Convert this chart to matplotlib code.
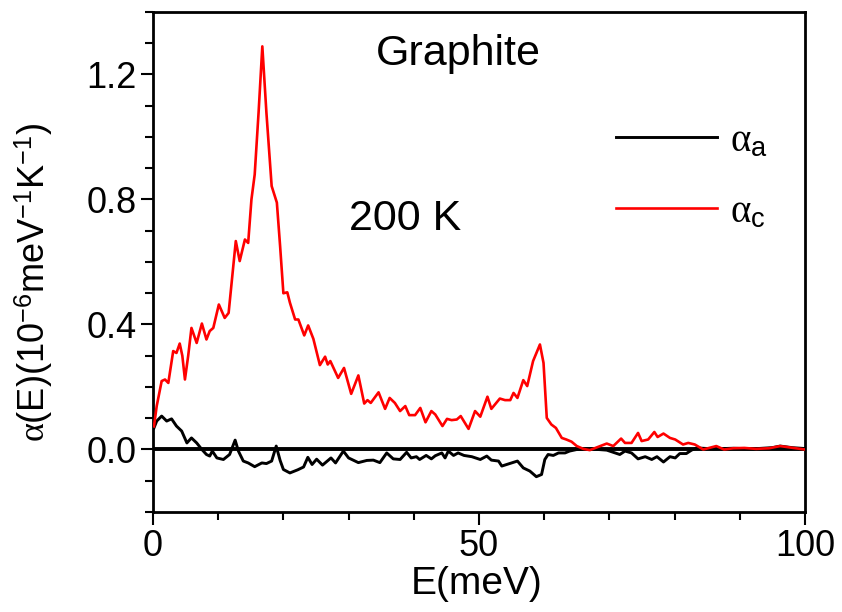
import matplotlib
matplotlib.use("Agg")
import matplotlib.pyplot as plt
from matplotlib.ticker import MultipleLocator

plt.rcParams['font.family'] = ['Liberation Sans', 'DejaVu Sans']
plt.rcParams['mathtext.fontset'] = 'custom'
plt.rcParams['mathtext.rm'] = 'Liberation Sans'
plt.rcParams['mathtext.it'] = 'Liberation Serif'

# ---- data ----
red_E = [0.15, 0.57, 1.33, 1.84, 2.35, 3.1, 3.6, 4.1, 4.5, 4.9, 5.4, 5.9, 6.7, 7.5, 8.2, 8.7,
         9.25, 10.1, 11.0, 11.6, 12.7, 13.3, 14.1, 14.6, 15.1, 15.6, 16.2, 16.77, 17.4, 18.2,
         19.0, 19.5, 20.0, 20.6, 21.0, 21.8, 22.3, 23.2, 23.8, 24.6, 25.6, 26.4, 26.8, 27.2,
         28.4, 29.3, 30.4, 31.5, 32.4, 32.9, 33.4, 34.6, 35.6, 36.3, 37.1, 37.9, 38.7, 39.3,
         40.2, 41.0, 41.8, 42.7, 43.3, 44.4, 45.1, 45.8, 46.6, 47.2, 48.4, 49.4, 50.2, 51.3,
         51.9, 53.2, 54.0, 54.8, 55.3, 55.9, 56.8, 57.4, 58.3, 59.35, 59.9, 60.4, 61.1, 61.8,
         62.7, 63.4, 64.2, 65.0, 66.0, 67.0, 68.6, 69.6, 70.6, 71.8, 72.4, 73.4, 74.4, 74.95,
         75.95, 76.9, 77.4, 78.3, 79.3, 80.1, 81.3, 82.1, 83.1, 84.4, 86.4, 87.6, 89.0, 90.7,
         92.5, 94.5, 96.2, 98.2, 100.0]
red_alpha = [0.074, 0.139, 0.219, 0.224, 0.213, 0.315, 0.309, 0.339, 0.30, 0.224, 0.30, 0.389,
             0.341, 0.403, 0.352, 0.379, 0.389, 0.464, 0.421, 0.437, 0.667, 0.603, 0.672, 0.661,
             0.80, 0.88, 1.08, 1.29, 1.077, 0.843, 0.79, 0.65, 0.50, 0.503, 0.47, 0.416, 0.416,
             0.365, 0.397, 0.354, 0.27, 0.297, 0.272, 0.283, 0.229, 0.261, 0.178, 0.237, 0.147,
             0.158, 0.149, 0.183, 0.130, 0.165, 0.149, 0.123, 0.139, 0.110, 0.110, 0.133, 0.087,
             0.123, 0.112, 0.075, 0.098, 0.094, 0.096, 0.107, 0.066, 0.123, 0.105, 0.169, 0.130,
             0.163, 0.158, 0.158, 0.181, 0.165, 0.222, 0.203, 0.283, 0.336, 0.277, 0.101, 0.080,
             0.069, 0.037, 0.032, 0.025, 0.011, 0.002, -0.002, 0.011, 0.019, 0.011, 0.035, 0.021,
             0.021, 0.053, 0.027, 0.032, 0.056, 0.040, 0.051, 0.037, 0.032, 0.016, 0.021, 0.016,
             0.0, 0.011, 0.0, 0.004, 0.005, 0.002, 0.004, 0.011, 0.005, 0.0]

black_E = [0.15, 0.57, 1.33, 2.1, 2.85, 3.6, 4.4, 5.2, 5.9, 6.7, 7.5, 8.2, 8.7, 9.1, 9.8, 10.8,
           11.75, 12.6, 13.1, 13.85, 14.6, 15.6, 16.7, 17.4, 18.2, 18.9, 19.5, 20.0, 21.0, 22.2,
           23.1, 23.75, 24.4, 25.1, 26.0, 27.3, 28.0, 29.2, 30.0, 31.5, 32.8, 33.8, 34.8, 35.85,
           36.85, 37.9, 38.9, 39.6, 40.4, 40.9, 41.9, 42.7, 43.3, 44.3, 44.8, 45.3, 46.1, 46.8,
           47.7, 48.9, 50.2, 51.2, 51.9, 53.0, 53.5, 54.7, 55.9, 56.8, 57.8, 58.8, 59.6, 60.1,
           60.6, 61.4, 62.2, 63.2, 63.9, 65.0, 67.0, 69.6, 71.6, 72.4, 73.4, 74.4, 75.5, 76.5,
           77.3, 78.3, 79.3, 80.1, 80.8, 81.8, 82.6, 83.4, 86.0, 89.0, 92.0, 95.0, 96.2, 98.0,
           100.0]
black_alpha = [0.069, 0.091, 0.107, 0.091, 0.098, 0.075, 0.059, 0.021, 0.037, 0.021, 0.0, -0.016,
               -0.021, -0.005, -0.027, -0.032, -0.016, 0.030, -0.005, -0.037, -0.043, -0.055,
               -0.043, -0.045, -0.037, 0.011, -0.035, -0.064, -0.075, -0.065, -0.056, -0.025,
               -0.048, -0.031, -0.050, -0.027, -0.043, -0.005, -0.027, -0.042, -0.035, -0.034,
               -0.042, -0.011, -0.030, -0.032, -0.009, -0.027, -0.023, -0.032, -0.019, -0.030,
               -0.020, -0.011, -0.027, -0.005, -0.019, -0.011, -0.019, -0.023, -0.032, -0.021,
               -0.034, -0.037, -0.053, -0.045, -0.037, -0.059, -0.069, -0.087, -0.080, -0.032,
               -0.016, -0.019, -0.011, -0.011, -0.005, 0.0, 0.002, -0.002, -0.016, -0.005, -0.011,
               -0.030, -0.023, -0.032, -0.023, -0.040, -0.023, -0.027, -0.013, -0.013, -0.002,
               0.005, 0.002, 0.004, 0.002, 0.006, 0.011, 0.006, 0.003]

x_ticks = [0, 50, 100]
y_ticks = [0.0, 0.4, 0.8, 1.2]
series_labels = [r'$\alpha_{\mathrm{a}}$', r'$\alpha_{\mathrm{c}}$']

fig = plt.figure(figsize=(8.42, 6.12), dpi=100)
ax = fig.add_axes([0.1817, 0.1634, 0.7743, 0.8170])

ax.axhline(0, color='black', lw=2.8, zorder=1)
ax.plot(black_E, black_alpha, color='black', lw=2.1, label=series_labels[0], zorder=2)
ax.plot(red_E, red_alpha, color='#ff0000', lw=1.9, label=series_labels[1], zorder=3)

ax.set_xlim(0, 100)
ax.set_ylim(-0.2, 1.4)
ax.set_xticks(x_ticks)
ax.set_xticklabels([str(v) for v in x_ticks])
ax.set_yticks(y_ticks)
ax.set_yticklabels([f"{v:.1f}" for v in y_ticks])
ax.xaxis.set_minor_locator(MultipleLocator(10))
ax.yaxis.set_minor_locator(MultipleLocator(0.1))
ax.tick_params(which='major', direction='out', length=9, width=1.5, labelsize=26, pad=3)
ax.tick_params(which='minor', direction='out', length=5.5, width=1.5)
ax.tick_params(top=False, right=False)
for s in ax.spines.values():
    s.set_linewidth(2)

ax.set_xlabel('E(meV)', fontsize=28)
ax.xaxis.set_label_coords(0.497, -0.108)
ax.set_ylabel(r'$\alpha$(E)(10$^{-6}$meV$^{-1}$K$^{-1}$)', fontsize=26)
ax.yaxis.set_label_coords(-0.15, 0.46)

ax.text(0.468, 0.915, 'Graphite', transform=ax.transAxes, fontsize=31, ha='center', va='center')
ax.text(0.386, 0.585, '200 K', transform=ax.transAxes, fontsize=31, ha='center', va='center')

leg = ax.legend(loc='upper left', bbox_to_anchor=(0.71, 0.778), frameon=False, fontsize=28,
                handlelength=2.6, handletextpad=0.33, labelspacing=0.9, borderaxespad=0,
                borderpad=0)

fig.savefig('out.png', dpi=100)
